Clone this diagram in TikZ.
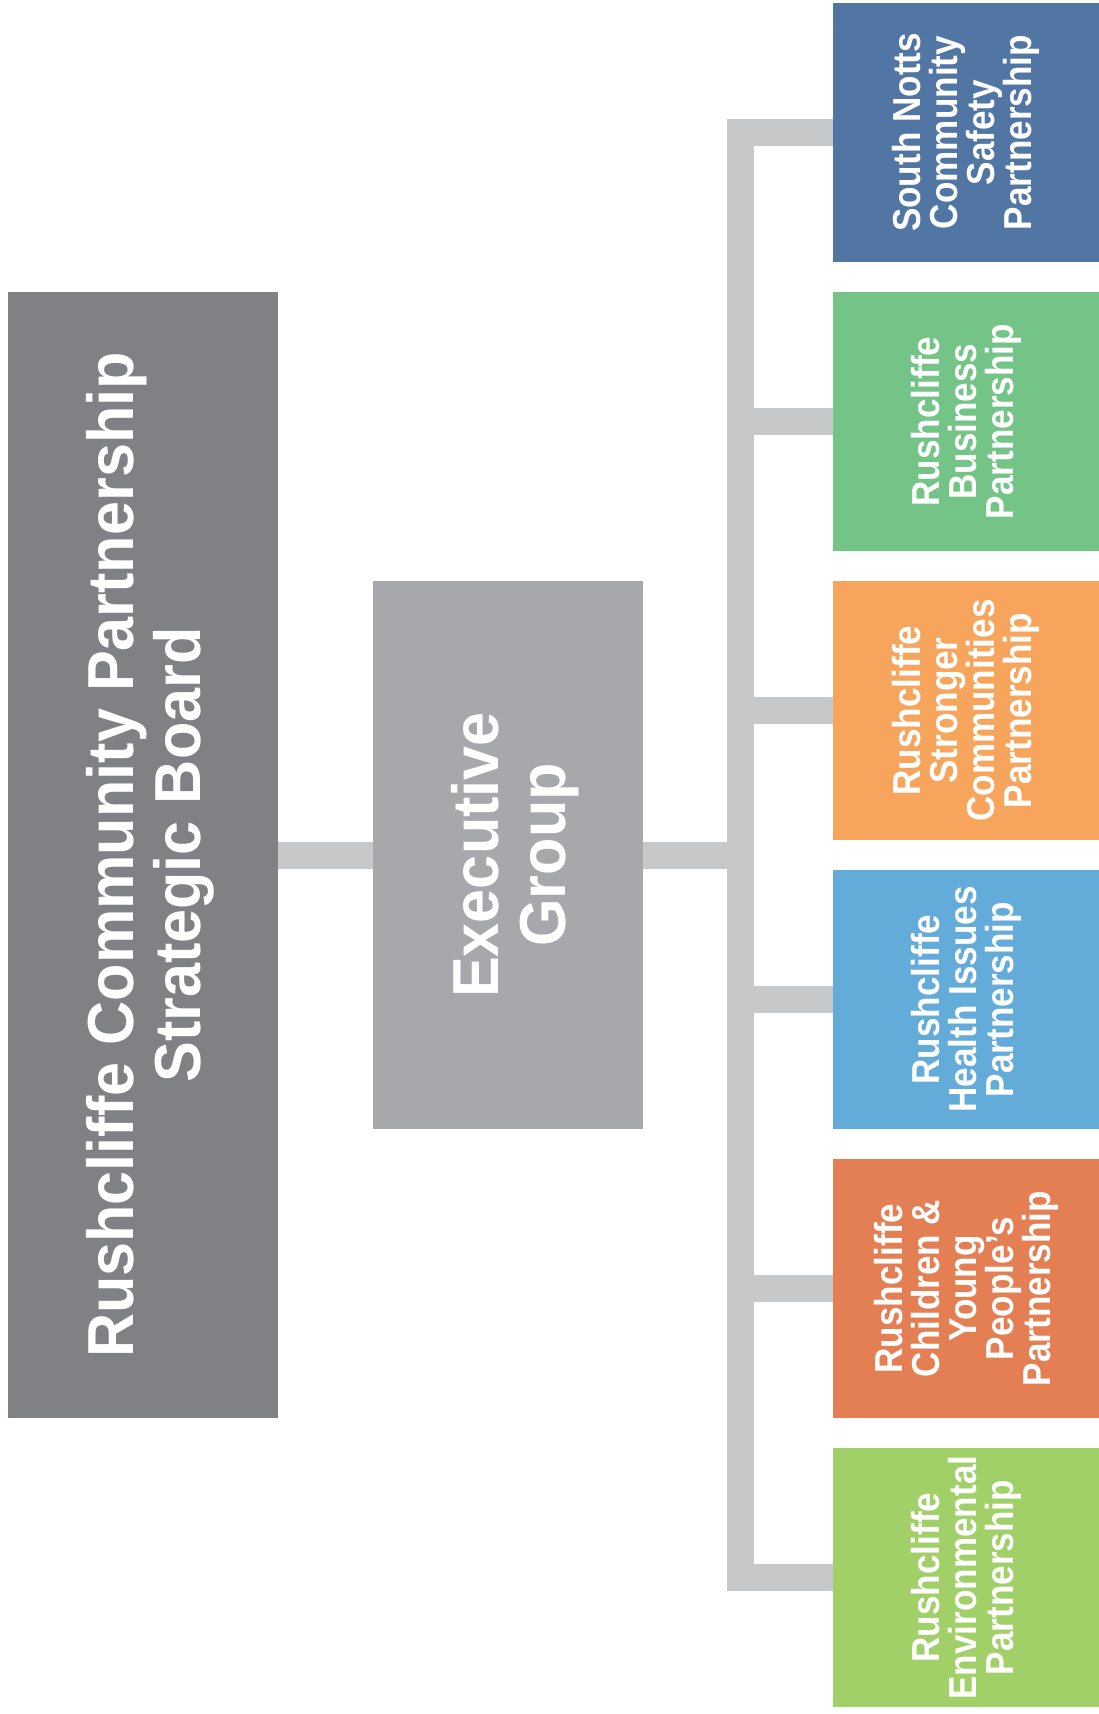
\documentclass[tikz,border=0pt]{standalone}
\usepackage{fontspec}
\setmainfont{Liberation Sans}
\newfontfamily\boardfont{Liberation Sans}[FakeStretch=0.94]
\newfontfamily\teamfont{Liberation Sans}[FakeStretch=0.9]
\usetikzlibrary{positioning}
\definecolor{boardgrey}{RGB}{128,129,133}
\definecolor{execgrey}{RGB}{167,168,171}
\definecolor{linkgrey}{RGB}{199,200,202}
\definecolor{safetyblue}{RGB}{82,118,163}
\definecolor{businessgreen}{RGB}{117,196,135}
\definecolor{strongerorange}{RGB}{247,165,92}
\definecolor{healthblue}{RGB}{99,171,217}
\definecolor{youngorange}{RGB}{228,126,83}
\definecolor{envgreen}{RGB}{161,207,104}
\tikzstyle{board} = [rectangle, rotate=90, minimum width=844.5pt, minimum height=202.5pt, inner sep=0pt, text depth=0pt, align=center, text=white, fill=boardgrey, font=\boardfont\bfseries\fontsize{48.8}{50.25}\selectfont]
\tikzstyle{team} = [rectangle, rotate=90, minimum width=194.25pt, minimum height=199.5pt, inner sep=0pt, align=center, text=white, font=\teamfont\bfseries\fontsize{29.25}{27.75}\selectfont]
\tikzstyle{link} = [draw=linkgrey, line width=20.25pt]
\begin{document}
\begin{tikzpicture}[x=0.75pt, y=-0.75pt]
\useasboundingbox (0,0) rectangle (1099,1714);

\node (0) [board] at (143,855) {Rushcliffe Community Partnership\\Strategic Board};
\node (1) [board, minimum width=411pt, fill=execgrey] at (508,855) {Executive\\Group};
\node (2) [team, fill=safetyblue] at (966,132.5) {South Notts\\Community\\Safety\\Partnership};
\node (3) [team, fill=businessgreen] at (966,421.5) {Rushcliffe\\Business\\Partnership};
\node (4) [team, fill=strongerorange] at (966,710.5) {Rushcliffe\\Stronger\\Communities\\Partnership};
\node (5) [team, fill=healthblue] at (966,999.5) {Rushcliffe\\Health Issues\\Partnership};
\node (6) [team, fill=youngorange] at (966,1288.5) {Rushcliffe\\Children \&\\Young\\People’s\\Partnership};
\node (7) [team, fill=envgreen] at (966,1577.5) {Rushcliffe\\Environmental\\Partnership};

\coordinate (1a) at (740.5,855);
\coordinate (2a) at (740.5,132.5);
\coordinate (3a) at (740.5,421.5);
\coordinate (4a) at (740.5,710.5);
\coordinate (5a) at (740.5,999.5);
\coordinate (6a) at (740.5,1288.5);
\coordinate (7a) at (740.5,1577.5);

\draw [link] (0) -- (1);
\draw [link] (1) -- (1a);
\draw [link, line cap=rect] (2a) -- (7a);
\draw [link] (2a) -- (2);
\draw [link] (3a) -- (3);
\draw [link] (4a) -- (4);
\draw [link] (5a) -- (5);
\draw [link] (6a) -- (6);
\draw [link] (7a) -- (7);

\end{tikzpicture}
\end{document}
